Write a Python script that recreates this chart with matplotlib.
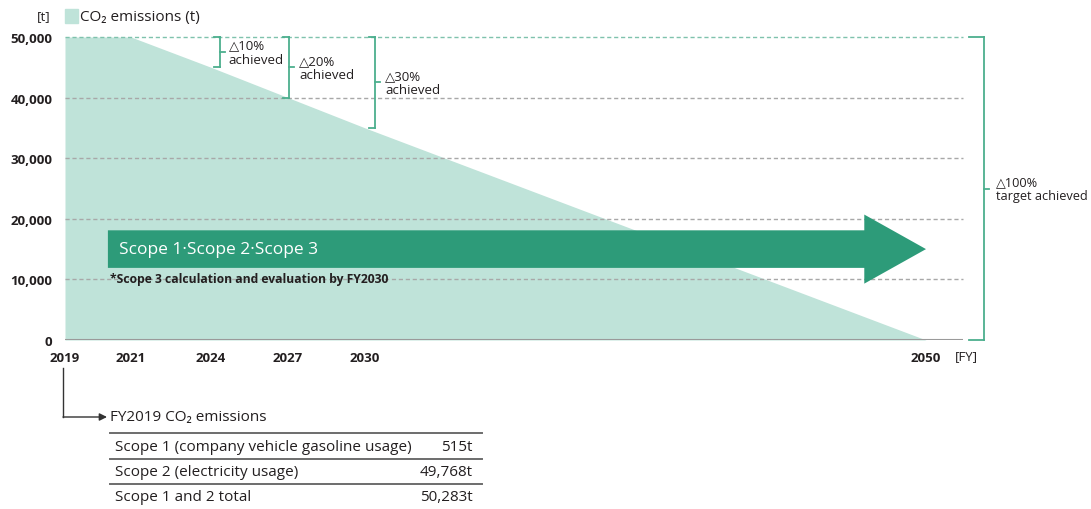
import numpy as np
import matplotlib
matplotlib.use("Agg")
import matplotlib.pyplot as plt
from matplotlib.lines import Line2D
from matplotlib.patches import Rectangle, Polygon, FancyArrowPatch
from matplotlib.transforms import ScaledTranslation

plt.rcParams['font.family'] = ['Open Sans', 'DejaVu Sans']

# emissions path (t)
years = [2019, 2021, 2024, 2027, 2030, 2050]
emissions = [50000, 50000, 45000, 40000, 35000, 0]

# reduction targets
target_years = [2024, 2027, 2030, 2050]
reduction_pct = [10, 20, 30, 100]
target_labels = ["achieved", "achieved", "achieved", "target achieved"]

# FY2019 breakdown
scope_rows = ["Scope 1 (company vehicle gasoline usage)",
              "Scope 2 (electricity usage)",
              "Scope 1 and 2 total"]
scope_values = [515, 49768, 50283]

y_ticks = [0, 10000, 20000, 30000, 40000, 50000]
base = 50000

FILL = "#bfe3d9"
ARROW = "#2d9b79"
LINE = "#4caf8e"
TXT = "#231f20"

W, H = 1091, 510
fig = plt.figure(figsize=(W / 100, H / 100), dpi=100)


def fx(px):
    return px / W


def fy(py):
    return 1 - py / H


ax = fig.add_axes([fx(65), fy(341), fx(963 - 65), (341 - 38) / H])

# uneven year spacing along the x axis
knot_years = [2019, 2021, 2024, 2027, 2030, 2050, 2060]
knot_px = [65, 131, 211, 288, 365, 926, 926 + 10 * 28.05]


def fwd(x):
    return np.interp(x, knot_years, knot_px)


def inv(p):
    return np.interp(p, knot_px, knot_years)


ax.set_xscale('function', functions=(fwd, inv))
ax.set_xlim(2019, inv(963))
ax.set_ylim(0, base)

ax.fill_between(years, emissions, 0, color=FILL, lw=0, zorder=1)

# dashed guide lines
for v in y_ticks[1:]:
    col = "#7fc2ad" if v == base else "#a8a8a8"
    ax.axhline(v, color=col, lw=1, ls=(0, (3, 2)), zorder=2, clip_on=False)
ax.axhline(0, color="#9a9a9a", lw=1.5, zorder=2)

for s in ax.spines.values():
    s.set_visible(False)
ax.set_yticks(y_ticks)
ax.set_yticklabels([f"{v:,}" for v in y_ticks], fontsize=9.5, fontweight='bold', color=TXT)
ax.set_xticks(years)
ax.set_xticklabels([str(y) for y in years], fontsize=9.5, fontweight='bold', color=TXT)
ax.xaxis.set_minor_locator(matplotlib.ticker.NullLocator())
ax.tick_params(axis='y', length=0, pad=9)
ax.tick_params(axis='x', length=0, pad=8)

# big arrow across the period
arrow_y = 15000
body_h, head_h = 3100, 5700
x0, xh, xt = 2020.3, 2047.8, years[-1]
pts = [(x0, arrow_y - body_h), (xh, arrow_y - body_h), (xh, arrow_y - head_h),
       (xt, arrow_y), (xh, arrow_y + head_h), (xh, arrow_y + body_h),
       (x0, arrow_y + body_h)]
ax.add_patch(Polygon(pts, closed=True, color=ARROW, lw=0, zorder=3))
ax.text(x0 + 0.35, arrow_y, "Scope 1·Scope 2·Scope 3", color="white",
        fontsize=12.5, va='center', ha='left', zorder=4)
ax.text(x0 + 0.05, arrow_y - body_h - 700, "*Scope 3 calculation and evaluation by FY2030",
        fontsize=8.7, fontweight='bold', va='top', ha='left', color=TXT, zorder=4)

# reduction brackets
bracket_x = [2024.34, 2027.04, 2030.36, 2052.05]
tick_left = [6, 6, 6, 15]
text_dx = [9, 10, 10, 12]
label_size = [9.5, 9.5, 9.5, 9.2]

fig.canvas.draw()
for pct, lab, bx, tl, tdx, fs in zip(reduction_pct, target_labels, bracket_x,
                                     tick_left, text_dx, label_size):
    low = base * (1 - pct / 100)
    mid = (base + low) / 2
    ax.plot([bx, bx], [base, low], color=LINE, lw=1.3, clip_on=False, zorder=5)
    for yv in (base, low):
        px, py = ax.transData.transform((bx, yv))
        fig.add_artist(Line2D([px - tl, px], [py, py], color=LINE, lw=1.3, transform=None))
    px, py = ax.transData.transform((bx, mid))
    fig.add_artist(Line2D([px, px + 5], [py, py], color=LINE, lw=1.3, transform=None))
    ax.text(bx, mid, f"△{pct}%\n{lab}", fontsize=fs, va='center', ha='left',
            color=TXT, linespacing=1.1, zorder=5,
            transform=ax.transData + ScaledTranslation(tdx / 100, 0, fig.dpi_scale_trans))

# header: unit and legend
fig.text(fx(50), fy(17), "[t]", fontsize=9.5, ha='right', va='center', color=TXT)
fig.add_artist(Rectangle((fx(65), fy(24)), fx(13), 14 / H, color=FILL, transform=fig.transFigure))
fig.text(fx(80), fy(17), "CO₂ emissions (t)", fontsize=11, ha='left', va='center', color=TXT)
fig.text(fx(955), fy(357), "[FY]", fontsize=9.5, ha='left', va='center', color=TXT)

# FY2019 pointer and breakdown table
fig.add_artist(Line2D([fx(63), fx(63)], [fy(369), fy(418)],
                      color="#333333", lw=1, transform=fig.transFigure))
fig.add_artist(FancyArrowPatch((fx(63), fy(418)), (fx(107), fy(418)),
                               arrowstyle='-|>', mutation_scale=11, lw=1,
                               color="#333333", transform=fig.transFigure,
                               shrinkA=0, shrinkB=0))
fig.text(fx(110), fy(418), "FY2019 CO₂ emissions", fontsize=11, ha='left', va='center', color=TXT)

row_lines = [434, 460, 485]
row_text = [448, 473, 498]
for yl in row_lines:
    fig.add_artist(Line2D([fx(110), fx(482)], [fy(yl), fy(yl)],
                          color="#6d6d6d", lw=1.4, transform=fig.transFigure))
for lab, val, yt in zip(scope_rows, scope_values, row_text):
    fig.text(fx(115), fy(yt), lab, fontsize=11, ha='left', va='center', color=TXT)
    fig.text(fx(473), fy(yt), f"{val:,}t", fontsize=11, ha='right', va='center', color=TXT)

fig.savefig("out.png", dpi=100)
